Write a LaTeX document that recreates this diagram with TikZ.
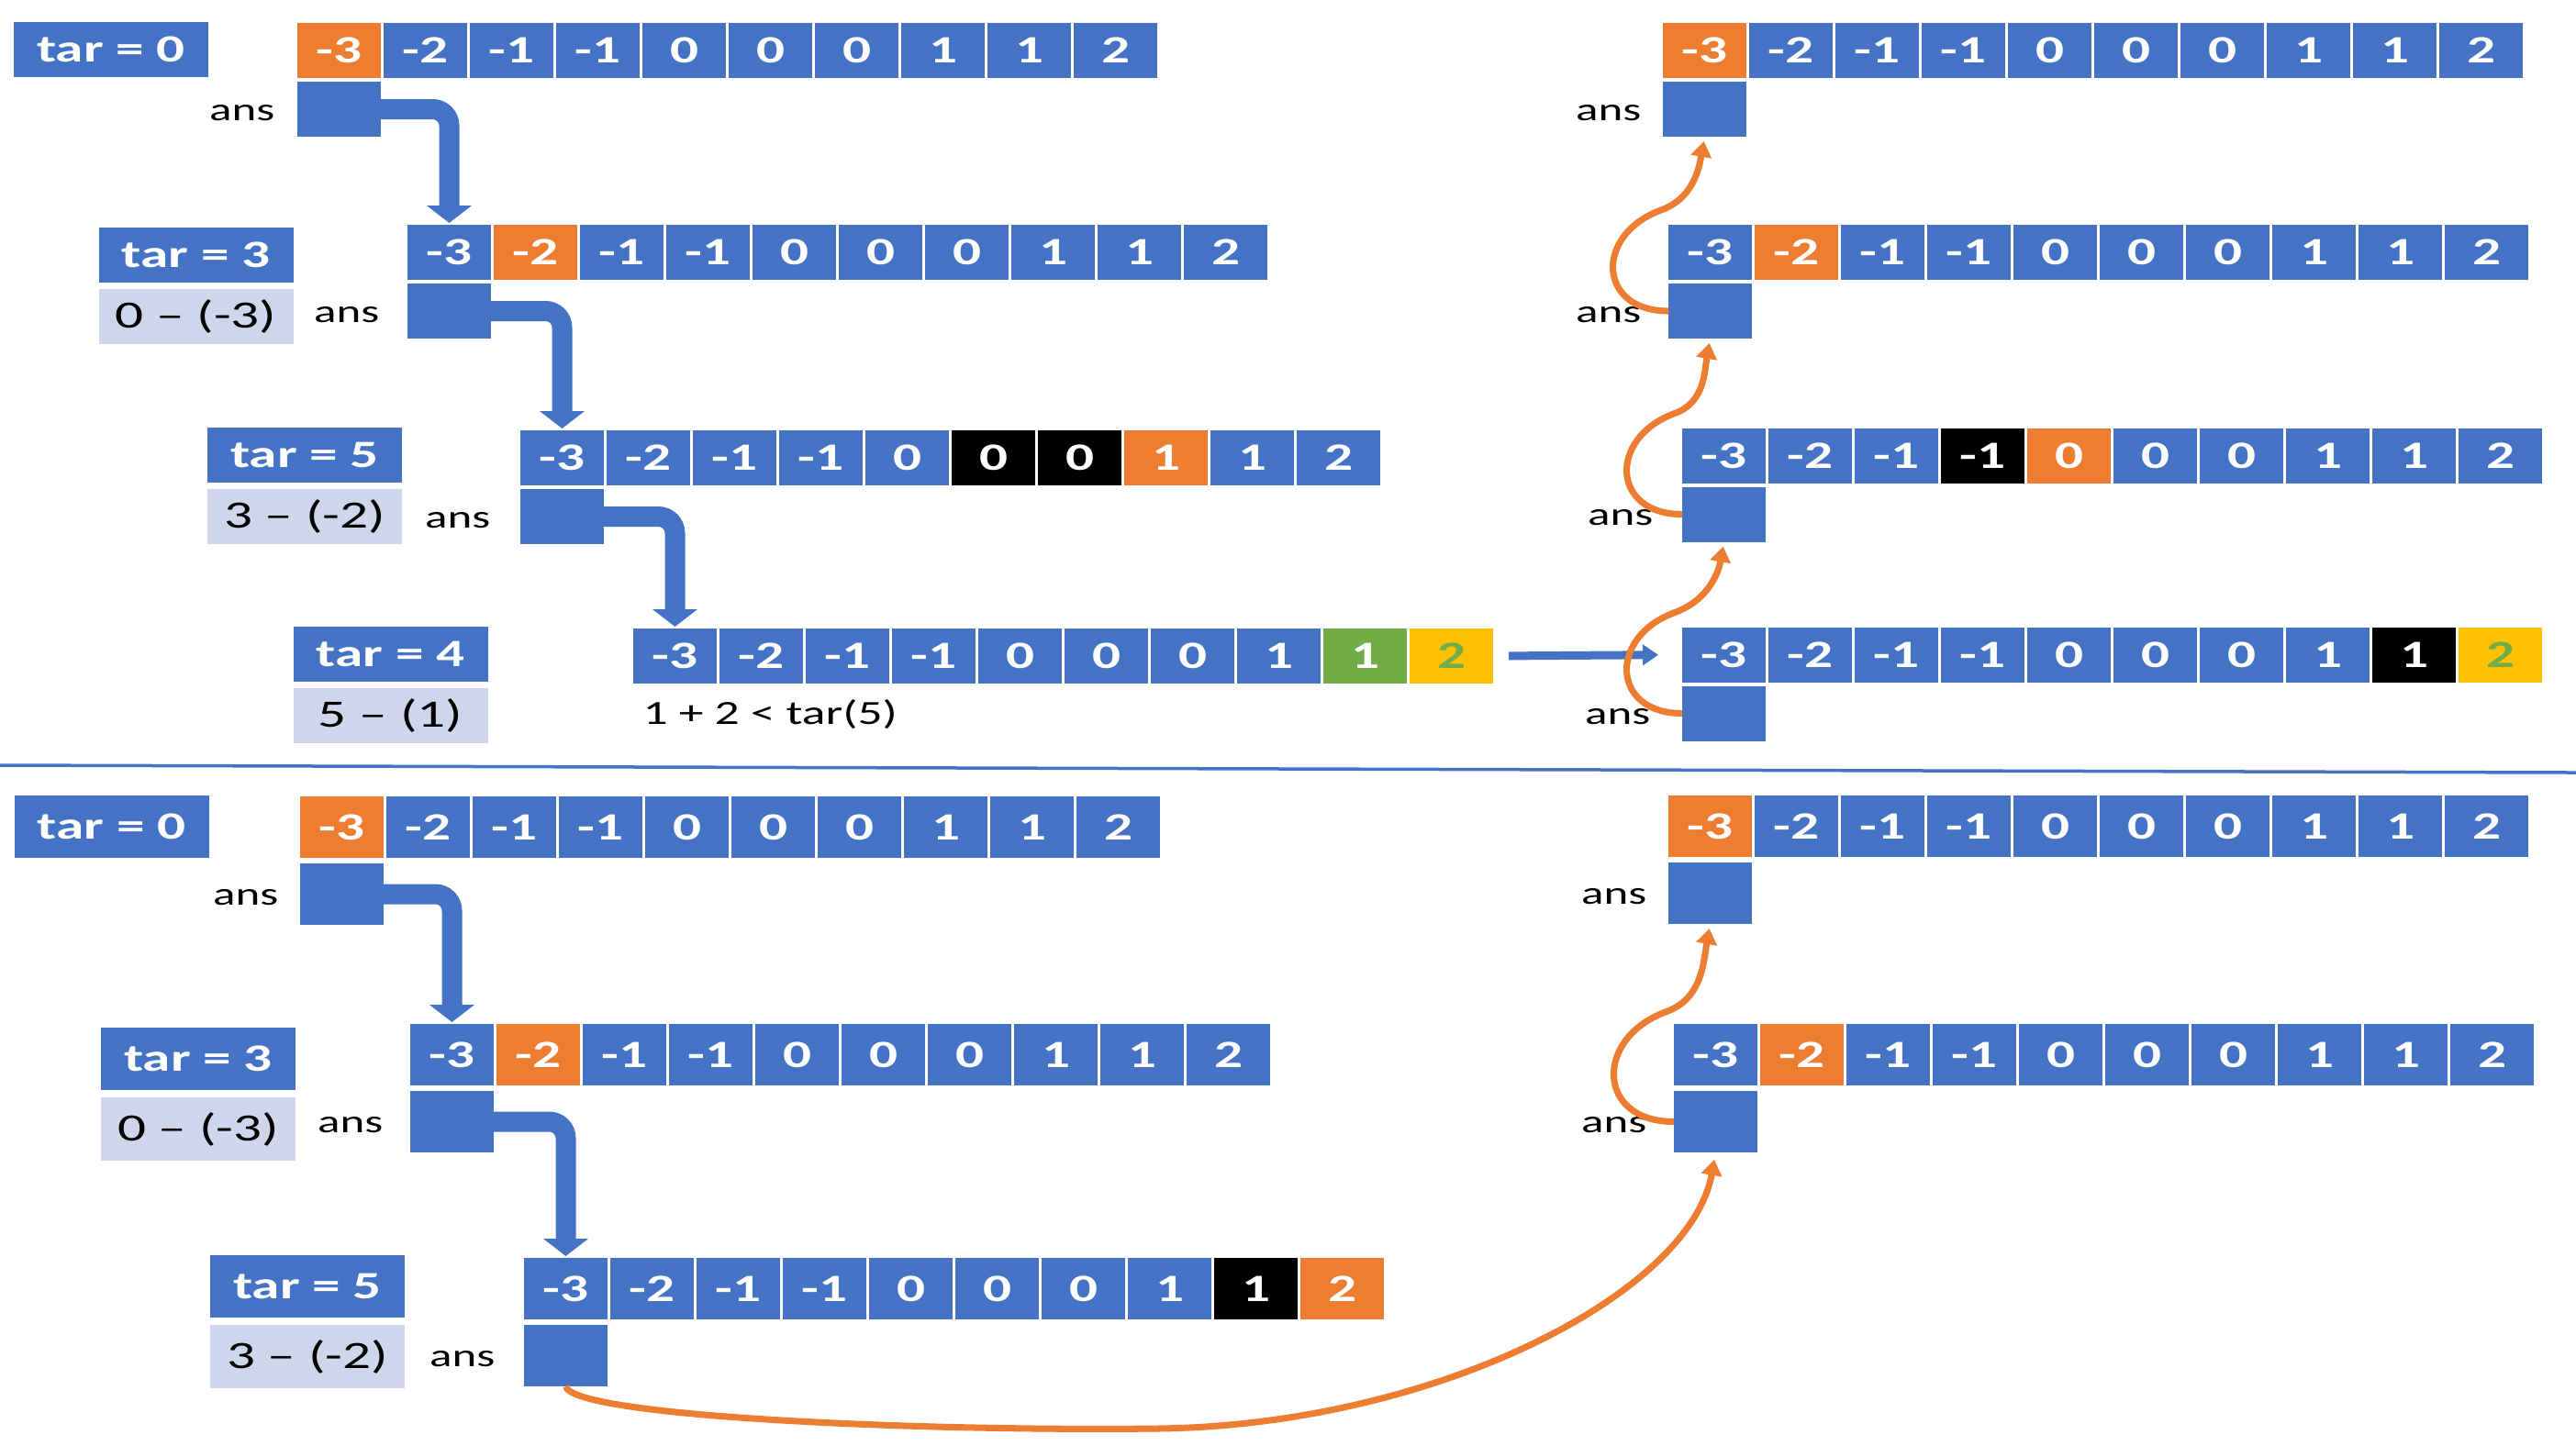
\documentclass[tikz,border=0pt]{standalone}
\usepackage{fontspec}
\setmainfont{Carlito}[FakeStretch=1.45]
\usetikzlibrary{arrows.meta,positioning,calc}

\definecolor{blu}{HTML}{4472C4}
\definecolor{org}{HTML}{ED7D31}
\definecolor{blk}{HTML}{000000}
\definecolor{grn}{HTML}{70AD47}
\definecolor{yel}{HTML}{FFC000}
\definecolor{lav}{HTML}{CFD5EA}

% one row of the sorted array: name, centre of first cell, special cells idx/fill/text
\newcommand{\numrow}[3]{%
  \foreach \val [count=\idx] in {-3,-2,-1,-1,0,0,0,1,1,2}{%
    \xdef\cf{blu}\xdef\ct{white}%
    \foreach \k/\fc/\tc in {#3}{\ifnum\idx=\k\relax\xdef\cf{\fc}\xdef\ct{\tc}\fi}%
    \node[numcell, fill=\cf, text=\ct] (#1-\idx) at ($(#2)+({(\idx-1)*0.94},0)$) {\val};
  }%
}

\begin{document}
\begin{tikzpicture}[
  numcell/.style={minimum width=0.91cm, minimum height=0.60cm, inner sep=0pt,
                  outer sep=0pt, text=white, font=\fontsize{12}{14}\selectfont\bfseries},
  tarbox/.style={fill=blu, text=white, minimum width=2.12cm, minimum height=0.60cm,
                 inner sep=0pt, font=\fontsize{12}{14}\selectfont\bfseries},
  diffbox/.style={fill=lav, text=black, minimum width=2.12cm, minimum height=0.60cm,
                  inner sep=0pt, font=\fontsize{12}{14}\selectfont},
  anslbl/.style={inner sep=0pt, yshift=-0.04cm, font=\fontsize{10}{12}\selectfont},
  notelbl/.style={inner sep=0pt, anchor=west, font=\fontsize{10.5}{12}\selectfont},
  bentarrow/.style={draw=blu, line width=0.22cm, rounded corners=0.18cm,
                    -{Triangle[width=0.48cm, length=0.19cm]}, shorten >=0.02cm},
  flowarrow/.style={draw=blu, line width=0.09cm, -{Triangle[width=0.22cm, length=0.17cm]}},
  curlarrow/.style={draw=org, line width=2pt, -{Triangle[width=0.22cm, length=0.17cm]},
                    shorten >=0.05cm},
  divider/.style={draw=blu, line width=0.035cm}
]
\useasboundingbox (0,0) rectangle (28.07,-15.75);

% --- upper half: tar = 0, 3, 5, 4 -------------------------------------
\numrow{t1}{3.695,-0.55}{1/org/white}
\numrow{t2}{4.895,-2.75}{2/org/white}
\numrow{t3}{6.125,-4.99}{6/blk/white,7/blk/white,8/org/white}
\numrow{t4}{7.355,-7.15}{9/grn/white,10/yel/grn}
\numrow{r1}{18.575,-0.55}{1/org/white}
\numrow{r2}{18.635,-2.75}{2/org/white}
\numrow{r3}{18.785,-4.965}{4/blk/white,5/org/white}
\numrow{r4}{18.785,-7.135}{9/blk/white,10/yel/grn}

\foreach \row in {t1,t2,t3,r1,r2,r3,r4}
  \node[numcell, fill=blu, below=0.04cm of \row-1] (\row a) {};

\node[tarbox] (t1tar) at (1.21,-0.54) {tar = 0};
\node[tarbox] (t2tar) at (2.135,-2.78) {tar = 3};
\node[diffbox, below=0.06cm of t2tar] (t2diff) {0 – (-3)};
\node[tarbox] (t3tar) at (3.32,-4.96) {tar = 5};
\node[diffbox, below=0.06cm of t3tar] (t3diff) {3 – (-2)};
\node[tarbox] (t4tar) at (4.255,-7.13) {tar = 4};
\node[diffbox, below=0.06cm of t4tar] (t4diff) {5 – (1)};
\node[notelbl] (t4note) at (7.00,-7.79) {1 + 2 < tar(5)};

% --- lower half: tar = 0, 3, 5 ------------------------------------------
\begin{scope}[numcell/.append style={minimum height=0.67cm},
              tarbox/.append style={minimum height=0.68cm},
              diffbox/.append style={minimum height=0.69cm}]
\numrow{b1}{3.725,-9.015}{1/org/white}
\numrow{b2}{4.925,-11.495}{2/org/white}
\numrow{b3}{6.165,-14.045}{9/blk/white,10/org/white}
\numrow{br1}{18.635,-9.005}{1/org/white}
\numrow{br2}{18.695,-11.495}{2/org/white}

\foreach \row in {b1,b2,b3,br1,br2}
  \node[numcell, fill=blu, below=0.06cm of \row-1] (\row a) {};

\node[tarbox] (b1tar) at (1.215,-9.01) {tar = 0};
\node[tarbox] (b2tar) at (2.16,-11.54) {tar = 3};
\node[diffbox, below=0.07cm of b2tar] (b2diff) {0 – (-3)};
\node[tarbox] (b3tar) at (3.35,-14.02) {tar = 5};
\node[diffbox, below=0.07cm of b3tar] (b3diff) {3 – (-2)};
\end{scope}

% --- ans labels -------------------------------------------------------------
\foreach \a/\d in {t1a/0.24, t2a/0.30, t3a/0.32, r1a/0.23, r2a/0.29, r3a/0.31, r4a/0.34,
                   b1a/0.23, b2a/0.29, b3a/0.31, br1a/0.23, br2a/0.29}
  \node[anslbl, left=\d cm of \a] (\a lbl) {ans};

% --- arrows -----------------------------------------------------------------
\foreach \a/\b in {t1a/t2-1, t2a/t3-1, t3a/t4-1, b1a/b2-1, b2a/b3-1}
  \draw[bentarrow] (\a.east) -| (\b.north);

\draw[flowarrow, shorten <=0.17cm, shorten >=0.26cm] (t4-10.east) -- (r4-1.west);

\foreach \a/\b/\h in {r4a/r3a/1.1, r3a/r2a/1.1, r2a/r1a/1.1, br2a/br1a/1.2}
  \draw[curlarrow] (\a.west) to[out=180, in=200, looseness=1.8] ++(-0.08,\h)
                   to[out=20, in=-100] (\b.south);

\coordinate (low) at (12.60,-15.57);
\draw[curlarrow, shorten >=0.08cm] (b3a.south) .. controls +(0.08,-0.33) and +(-2.6,-0.03) .. (low)
      .. controls +(3.0,0.03) and +(-0.28,-1.55) .. (br2a.south);

% --- divider between the two runs -------------------------------------------
\coordinate (divl) at (0,-8.34);
\coordinate (divr) at (28.07,-8.42);
\draw[divider] (divl) -- (divr);

\end{tikzpicture}
\end{document}
